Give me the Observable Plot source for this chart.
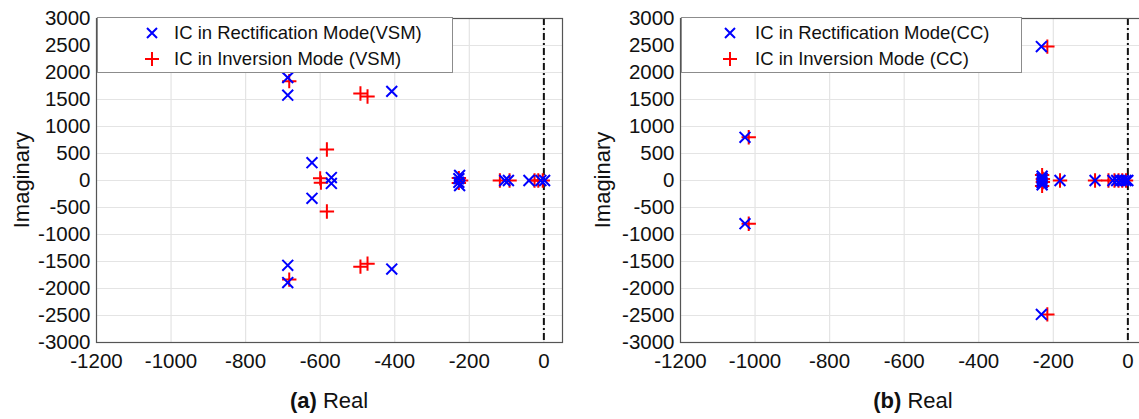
<!DOCTYPE html>
<html>
<head>
<meta charset="utf-8">
<script src="https://cdn.jsdelivr.net/npm/d3@7"></script>
<script src="https://cdn.jsdelivr.net/npm/@observablehq/plot@0.6"></script>
<style>
  html, body { margin: 0; padding: 0; background: #fff; overflow: hidden; }
  body { width: 1139px; height: 419px; position: relative; font-family: "Liberation Sans", Arial, sans-serif; }
  .panel { position: absolute; top: 0; }
  .panel svg { max-width: none !important; }
  .legend { position: absolute; background: #fff; border: 1px solid #8c8c8c; box-sizing: border-box; }
  .legend .row { position: absolute; font-size: 18.5px; color: #111; white-space: nowrap; line-height: 1; }
  .legend svg { position: absolute; overflow: visible; }
  .ylab { position: absolute; font-size: 22px; color: #111; transform: translate(-50%, -50%) rotate(-90deg); white-space: nowrap; }
  .xlab { position: absolute; font-size: 22px; color: #111; transform: translate(-50%, -50%); white-space: nowrap; }
</style>
</head>
<body>
<script>
// ---- Data: panel (a) VSM ----
const vsmRectReal = [-687, -687, -687, -687, -408, -408, -622, -622, -570, -570, -226, -226, -228, -228, -105, -95, -40, -8, 2];
const vsmRectImag = [1905, 1580, -1570, -1890, 1650, -1640, 330, -330, 55, -55, 95, -95, 35, -35, 0, 0, 0, 0, 0];
const vsmInvReal  = [-683, -683, -492, -473, -492, -473, -582, -582, -600, -598, -228, -228, -222, -118, -92, -25, -15, -3];
const vsmInvImag  = [1840, -1835, 1610, 1555, -1595, -1540, 575, -575, 40, -40, 45, -45, 0, 0, 0, 0, 0, 0];

// ---- Data: panel (b) CC ----
const ccRectReal = [-1027, -1027, -232, -232, -230, -230, -230, -230, -230, -182, -88, -40, -30, -20, -12, -5, 0];
const ccRectImag = [800, -800, 2480, -2480, 80, 40, 0, -40, -80, 0, 0, 0, 0, 0, 0, 0, 0];
const ccInvReal  = [-1017, -1017, -216, -216, -230, -230, -228, -228, -182, -88, -52, -36, -25, -15, -5];
const ccInvImag  = [800, -800, 2480, -2480, 100, -100, 30, -30, 0, 0, 0, 0, 0, 0, 0];

// ---- Axis ticks and labels ----
const xTicks = [-1200, -1000, -800, -600, -400, -200, 0];
const yTicks = [-3000, -2500, -2000, -1500, -1000, -500, 0, 500, 1000, 1500, 2000, 2500, 3000];
const panels = [
  {tag: "(a)", rectLabel: "IC in Rectification Mode(VSM)", invLabel: "IC in Inversion Mode (VSM)",
   rx: vsmRectReal, ry: vsmRectImag, ix: vsmInvReal, iy: vsmInvImag},
  {tag: "(b)", rectLabel: "IC in Rectification Mode(CC)", invLabel: "IC in Inversion Mode (CC)",
   rx: ccRectReal, ry: ccRectImag, ix: ccInvReal, iy: ccInvImag}
];

const BLUE = "#0000ff", RED = "#ff0000";
const layout = [
  {left: 0, width: 570, ml: 96, mr: 8, legW: 356, legMarkX: 54, legTextX: 76},
  {left: 570, width: 580, ml: 110, mr: 4, legW: 341, legMarkX: 48, legTextX: 73}
];
const H = 419, MT = 18, MB = 77;

panels.forEach((p, i) => {
  const L = layout[i];
  const rect = p.rx.map((x, k) => ({x, y: p.ry[k]}));
  const inv = p.ix.map((x, k) => ({x, y: p.iy[k]}));
  const chart = Plot.plot({
    width: L.width, height: H,
    marginLeft: L.ml, marginRight: L.mr, marginTop: MT, marginBottom: MB,
    x: {domain: [-1200, 50]},
    y: {domain: [-3000, 3000]},
    style: {fontFamily: "Liberation Sans, Arial, sans-serif", fontSize: "20px", background: "transparent", overflow: "visible"},
    marks: [
      Plot.gridX(xTicks, {stroke: "#e4e4e4", strokeOpacity: 1, strokeWidth: 1.2}),
      Plot.gridY(yTicks, {stroke: "#e4e4e4", strokeOpacity: 1, strokeWidth: 1.2}),
      Plot.axisX(xTicks, {tickSize: 0, tickPadding: 11, fontSize: 20.5, fill: "#111", tickFormat: d => String(d), label: null}),
      Plot.axisY(yTicks, {tickSize: 0, tickPadding: 6, fontSize: 20.5, fill: "#111", tickFormat: d => String(d), label: null}),
      Plot.ruleX([0], {stroke: "#111", strokeWidth: 2, strokeDasharray: "7,3,2,3"}),
      Plot.dot(inv, {x: "x", y: "y", symbol: "plus", r: 4.7, stroke: RED, strokeWidth: 2}),
      Plot.dot(rect, {x: "x", y: "y", symbol: "times", r: 5, stroke: BLUE, strokeWidth: 2}),
      Plot.frame({stroke: "#555", strokeWidth: 1.2})
    ]
  });
  const div = document.createElement("div");
  div.className = "panel";
  div.style.left = L.left + "px";
  div.style.width = L.width + "px";
  div.appendChild(chart);
  document.body.appendChild(div);

  // legend (HTML overlay)
  const leg = document.createElement("div");
  leg.className = "legend";
  leg.style.left = (L.left + L.ml + 1) + "px";
  leg.style.top = "17px";
  leg.style.width = L.legW + "px";
  leg.style.height = "56px";
  const rows = [
    {label: p.rectLabel, color: BLUE, sym: "times", y: 15},
    {label: p.invLabel, color: RED, sym: "plus", y: 41}
  ];
  rows.forEach(r => {
    const s = document.createElementNS("http://www.w3.org/2000/svg", "svg");
    s.setAttribute("width", "16"); s.setAttribute("height", "16");
    s.style.left = (L.legMarkX - 8) + "px"; s.style.top = (r.y - 8) + "px";
    const path = document.createElementNS("http://www.w3.org/2000/svg", "path");
    path.setAttribute("d", r.sym === "times" ? "M3,3L13,13M13,3L3,13" : "M1,8L15,8M8,1L8,15");
    path.setAttribute("stroke", r.color); path.setAttribute("stroke-width", "2"); path.setAttribute("fill", "none");
    s.appendChild(path);
    leg.appendChild(s);
    const t = document.createElement("div");
    t.className = "row";
    t.textContent = r.label;
    t.style.left = L.legTextX + "px";
    t.style.top = (r.y - 9) + "px";
    leg.appendChild(t);
  });
  document.body.appendChild(leg);

  // axis titles
  const frameL = L.left + L.ml, frameR = L.left + L.width - L.mr;
  const yl = document.createElement("div");
  yl.className = "ylab";
  yl.textContent = "Imaginary";
  yl.style.left = (L.left + (i === 0 ? 22 : 33)) + "px";
  yl.style.top = "180px";
  document.body.appendChild(yl);
  const xl = document.createElement("div");
  xl.className = "xlab";
  xl.innerHTML = "<b>" + p.tag + "</b> Real";
  xl.style.left = ((frameL + frameR) / 2) + "px";
  xl.style.top = "401px";
  document.body.appendChild(xl);
});
</script>
</body>
</html>
